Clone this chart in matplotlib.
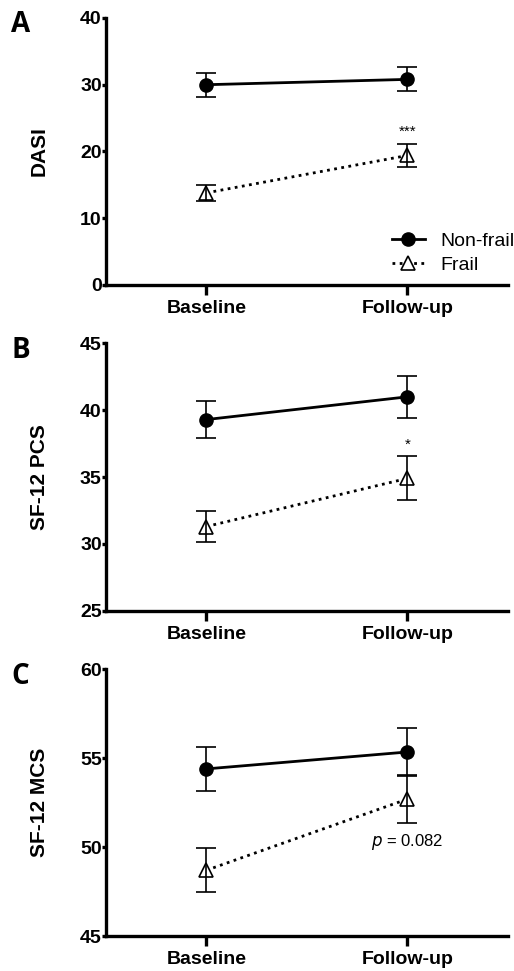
#!/usr/bin/env python3

import matplotlib
matplotlib.use("Agg")
import matplotlib.pyplot as plt
import numpy as np

plt.rcParams['font.family'] = ['Liberation Sans', 'DejaVu Sans']

timepoints = ["Baseline", "Follow-up"]
groups = ["Non-frail", "Frail"]

# panel A: DASI
dasi_nonfrail = [30.0, 30.8]
dasi_nonfrail_err = [1.8, 1.8]
dasi_frail = [13.8, 19.4]
dasi_frail_err = [1.2, 1.7]

# panel B: SF-12 PCS
pcs_nonfrail = [39.3, 41.0]
pcs_nonfrail_err = [1.4, 1.55]
pcs_frail = [31.3, 34.9]
pcs_frail_err = [1.15, 1.65]

# panel C: SF-12 MCS
mcs_nonfrail = [54.4, 55.35]
mcs_nonfrail_err = [1.25, 1.35]
mcs_frail = [48.7, 52.7]
mcs_frail_err = [1.25, 1.35]

panels = [
    ("A", "DASI", (0, 40), [0, 10, 20, 30, 40],
     dasi_nonfrail, dasi_nonfrail_err, dasi_frail, dasi_frail_err, "***", 23.0),
    ("B", "SF-12 PCS", (25, 45), [25, 30, 35, 40, 45],
     pcs_nonfrail, pcs_nonfrail_err, pcs_frail, pcs_frail_err, "*", 37.4),
    ("C", "SF-12 MCS", (45, 60), [45, 50, 55, 60],
     mcs_nonfrail, mcs_nonfrail_err, mcs_frail, mcs_frail_err, "p", 50.3),
]

# axes boxes in figure fractions (left, bottom, width, height)
boxes = [
    (0.206, 0.7065, 0.782, 0.275),
    (0.206, 0.371, 0.782, 0.2754),
    (0.206, 0.036, 0.782, 0.2747),
]

fig = plt.figure(figsize=(5.14, 9.71), dpi=100)
x = np.arange(len(timepoints))

for i, (letter, ylab, ylim, yticks, nf, nf_err, fr, fr_err, sig, sig_y) in enumerate(panels):
    ax = fig.add_axes(boxes[i])

    ax.plot(x, nf, color='black', lw=2.0, marker='o', ms=9.5,
            label=groups[0], zorder=3)
    ax.plot(x, fr, color='black', lw=2.0, ls=(0, (1, 1.6)), marker='^', ms=10,
            mfc='white', mec='black', mew=1.2, label=groups[1], zorder=3)
    ax.errorbar(x, nf, yerr=nf_err, fmt='none', ecolor='black', elinewidth=1.2,
                capsize=7, capthick=1.2, zorder=4)
    ax.errorbar(x, fr, yerr=fr_err, fmt='none', ecolor='black', elinewidth=1.2,
                capsize=7, capthick=1.2, zorder=4)

    if sig == "p":
        ax.text(x[1], sig_y, r"$\it{p}$ = 0.082", ha='center', va='center',
                fontsize=12)
    else:
        ax.text(x[1], sig_y, sig, ha='center', va='center', fontsize=11)

    ax.set_xlim(-0.5, 1.5)
    ax.set_ylim(*ylim)
    ax.set_yticks(yticks)
    ax.set_xticks(x)
    ax.set_xticklabels(timepoints, fontsize=14, fontweight='bold')
    for lbl in ax.get_yticklabels():
        lbl.set_fontsize(14)
        lbl.set_fontweight('bold')
    ax.set_ylabel(ylab, fontsize=15, fontweight='bold')
    ax.yaxis.set_label_coords(-0.142, 0.5)

    ax.spines['top'].set_visible(False)
    ax.spines['right'].set_visible(False)
    ax.spines['left'].set_linewidth(2.4)
    ax.spines['bottom'].set_linewidth(2.4)
    ax.tick_params(axis='x', direction='out', length=7, width=2.4, pad=4)
    ax.tick_params(axis='y', direction='out', length=3, width=2.4, pad=0)

    fig.text(0.022, boxes[i][1] + boxes[i][3] - 0.007, letter, fontsize=20,
             fontweight='bold', family='Open Sans', va='center', ha='left')

    if i == 0:
        ax.legend(loc='lower right', bbox_to_anchor=(1.06, -0.025), frameon=False,
                  fontsize=14, handlelength=1.7, handletextpad=0.8,
                  labelspacing=0.35)

fig.savefig("out.png", dpi=100)
